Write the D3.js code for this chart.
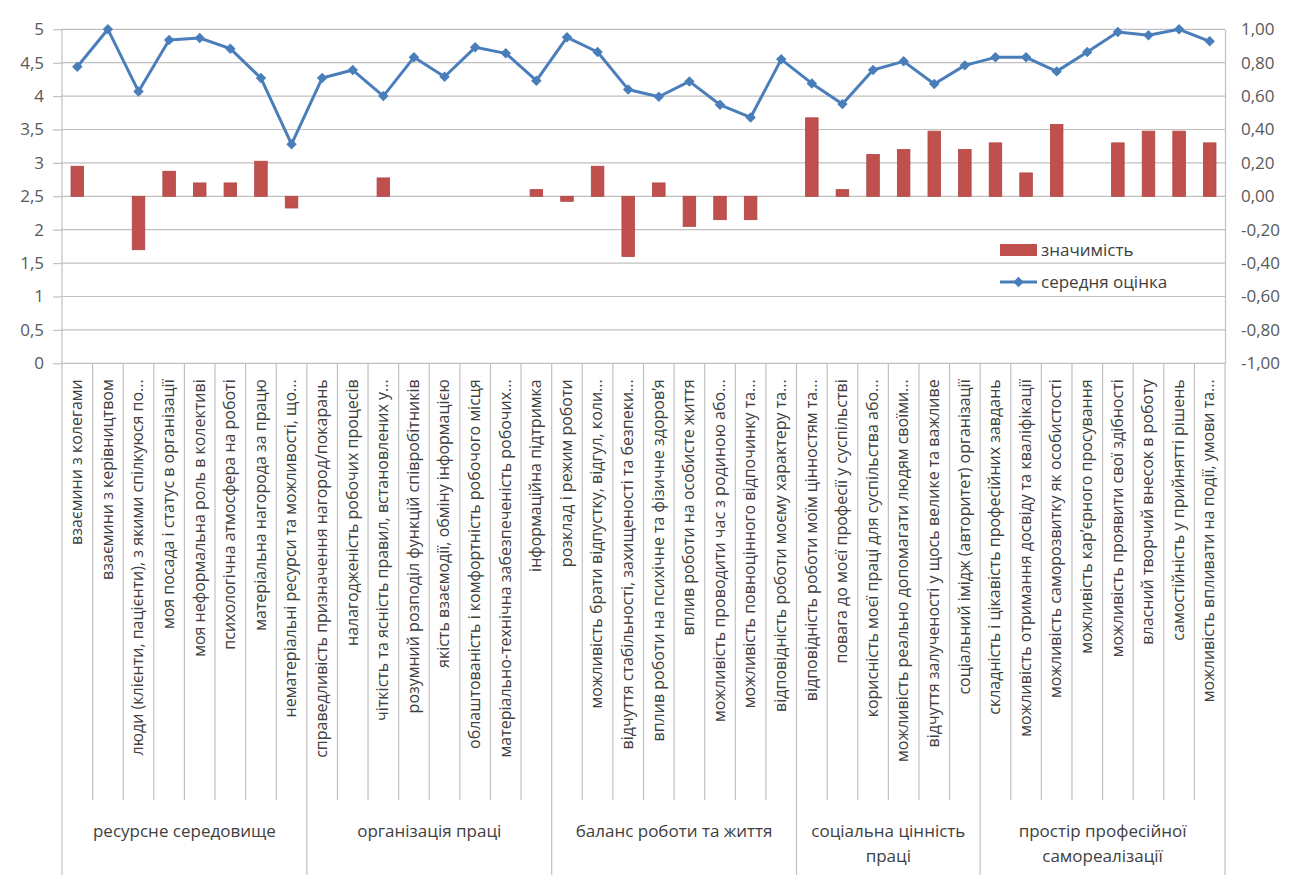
<!DOCTYPE html>
<html>
<head>
<meta charset="utf-8">
<script src="https://cdn.jsdelivr.net/npm/d3@7"></script>
<style>
  html, body { margin: 0; padding: 0; background: #fff; }
  svg { display: block; }
</style>
</head>
<body>
<svg id="chart" width="1305" height="875"></svg>
<script>
// Factors, one per column
const categories = [
  "взаємини з колегами",
  "взаємини з керівництвом",
  "люди (клієнти, пацієнти), з якими спілкуюся по...",
  "моя посада і статус в організації",
  "моя неформальна роль в колективі",
  "психологічна атмосфера на роботі",
  "матеріальна нагорода за працю",
  "нематеріальні ресурси та можливості, що...",
  "справедливість призначення нагород/покарань",
  "налагодженість робочих процесів",
  "чіткість та ясність правил, встановлених у...",
  "розумний розподіл функцій співробітників",
  "якість взаємодії, обміну інформацією",
  "облаштованість і комфортність робочого місця",
  "матеріально-технічна забезпеченість  робочих...",
  "інформаційна підтримка",
  "розклад  і режим роботи",
  "можливість брати відпустку, відгул, коли...",
  "відчуття стабільності, захищеності та безпеки...",
  "вплив роботи на психічне та фізичне здоров’я",
  "вплив роботи на особисте життя",
  "можливість проводити час з родиною або...",
  "можливість повноцінного відпочинку та...",
  "відповідність роботи моєму характеру та...",
  "відповідність роботи моїм цінностям та...",
  "повага до моєї професії у суспільстві",
  "корисність моєї праці для суспільства або...",
  "можливість реально допомагати людям своїми...",
  "відчуття залученості у щось велике та важливе",
  "соціальний імідж (авторитет) організації",
  "складність і цікавість професійних завдань",
  "можливість отримання досвіду та кваліфікації",
  "можливість саморозвитку як особистості",
  "можливість кар’єрного просування",
  "можливість проявити свої здібності",
  "власний творчий внесок в роботу",
  "самостійність у прийнятті рішень",
  "можливість впливати на події, умови та..."
];

// Factor groups: label lines and number of factors in each
const groupLabels = [
  ["ресурсне середовище"],
  ["організація праці"],
  ["баланс роботи та життя"],
  ["соціальна цінність", "праці"],
  ["простір професійної", "самореалізації"]
];
const groupSizes = [8, 8, 8, 6, 8];

// Mean score (left axis, 0..5)
const meanScore = [
  4.44, 5.00, 4.07, 4.84, 4.87, 4.71, 4.27, 3.28,
  4.27, 4.39, 4.00, 4.58, 4.29, 4.73, 4.64, 4.23,
  4.88, 4.66, 4.10, 3.99, 4.22, 3.87, 3.68, 4.55,
  4.19, 3.88, 4.39, 4.52, 4.18, 4.46,
  4.58, 4.58, 4.37, 4.66, 4.96, 4.91, 5.00, 4.82
];

// Significance (right axis, -1..1)
const significance = [
  0.18, 0.00, -0.32, 0.15, 0.08, 0.08, 0.21, -0.07,
  0.00, 0.00, 0.11, 0.00, 0.00, 0.00, 0.00, 0.04,
  -0.03, 0.18, -0.36, 0.08, -0.18, -0.14, -0.14, 0.00,
  0.47, 0.04, 0.25, 0.28, 0.39, 0.28,
  0.32, 0.14, 0.43, 0.00, 0.32, 0.39, 0.39, 0.32
];

const leftTicks = [0, 0.5, 1, 1.5, 2, 2.5, 3, 3.5, 4, 4.5, 5];
const rightTicks = [-1, -0.8, -0.6, -0.4, -0.2, 0, 0.2, 0.4, 0.6, 0.8, 1];

const seriesNames = ["значимість", "середня оцінка"];

// ---- layout ----
const plot = { left: 62, right: 1225, top: 29.3, bottom: 363.3 };
const catLineBottom = 800;
const groupLineBottom = 875;
const barColor = "#c0504d";
const lineColor = "#4a7ebb";
const gridColor = "#c0c0c0";
const textColor = "#404040";
const font = "'Open Sans', 'DejaVu Sans', sans-serif";
const catFontSize = 16;

const svg = d3.select("#chart");

const x = d3.scaleBand()
  .domain(d3.range(categories.length))
  .range([plot.left, plot.right])
  .padding(0);
const step = x.bandwidth();
const barWidth = step * 0.41;
const cx = i => x(i) + step / 2;

const yLeft = d3.scaleLinear().domain([0, 5]).range([plot.bottom, plot.top]);
const yRight = d3.scaleLinear().domain([-1, 1]).range([plot.bottom, plot.top]);

const commaNum = s => s.replace(".", ",").replace("−", "-");

// gridlines
svg.append("g")
  .selectAll("line")
  .data(leftTicks)
  .join("line")
  .attr("x1", plot.left).attr("x2", plot.right)
  .attr("y1", d => yLeft(d)).attr("y2", d => yLeft(d))
  .attr("stroke", gridColor).attr("stroke-width", 1.2);

// left axis
const axL = svg.append("g")
  .attr("transform", `translate(${plot.left},0)`)
  .call(d3.axisLeft(yLeft).tickValues(leftTicks).tickSize(9).tickPadding(9)
    .tickFormat(d => commaNum(String(d))));
axL.select(".domain").attr("stroke", gridColor).attr("stroke-width", 1.2)
  .attr("d", `M0,${plot.top}V${plot.bottom}`);
axL.selectAll(".tick line").attr("stroke", gridColor).attr("stroke-width", 1.2);
axL.selectAll("text").attr("fill", "#595959").style("font-family", font).style("font-size", "17px");

// right axis
const axR = svg.append("g")
  .attr("transform", `translate(${plot.right},0)`)
  .call(d3.axisRight(yRight).tickValues(rightTicks).tickSize(0).tickPadding(16)
    .tickFormat(d => commaNum(d3.format(".2f")(d))));
axR.select(".domain").attr("stroke", gridColor).attr("stroke-width", 1.2);
axR.selectAll("text").attr("fill", "#595959").style("font-family", font).style("font-size", "17px");

// category separators below the axis
const groupBounds = d3.cumsum([0, ...groupSizes]);
const boundaries = d3.range(categories.length + 1);
svg.append("g")
  .selectAll("line")
  .data(boundaries)
  .join("line")
  .attr("x1", i => plot.left + i * step).attr("x2", i => plot.left + i * step)
  .attr("y1", plot.bottom)
  .attr("y2", i => groupBounds.includes(i) ? groupLineBottom : catLineBottom)
  .attr("stroke", gridColor).attr("stroke-width", 1.2);

// category labels, rotated
svg.append("g")
  .selectAll("text")
  .data(categories)
  .join("text")
  .attr("transform", (d, i) => `translate(${cx(i) + catFontSize * 0.3},${plot.bottom + 16}) rotate(-90)`)
  .attr("text-anchor", "end")
  .attr("fill", textColor)
  .style("font-family", font)
  .style("font-size", catFontSize + "px")
  .text(d => d);

// group labels
const groupG = svg.append("g");
groupLabels.forEach((lines, g) => {
  const mid = plot.left + (groupBounds[g] + groupBounds[g + 1]) / 2 * step;
  lines.forEach((t, k) => {
    groupG.append("text")
      .attr("x", mid)
      .attr("y", 837 + k * 25)
      .attr("text-anchor", "middle")
      .attr("fill", textColor)
      .style("font-family", font)
      .style("font-size", "17px")
      .text(t);
  });
});

// significance bars
svg.append("g")
  .selectAll("rect")
  .data(significance.map((v, i) => ({ v, i })).filter(d => d.v !== 0))
  .join("rect")
  .attr("x", d => cx(d.i) - barWidth / 2)
  .attr("width", barWidth)
  .attr("y", d => yRight(Math.max(0, d.v)))
  .attr("height", d => Math.abs(yRight(d.v) - yRight(0)))
  .attr("fill", barColor)
  .attr("stroke", "#b04542").attr("stroke-width", 0.8);

// mean score line
svg.append("path")
  .datum(meanScore)
  .attr("fill", "none")
  .attr("stroke", lineColor)
  .attr("stroke-width", 3)
  .attr("stroke-linejoin", "round")
  .attr("d", d3.line().x((d, i) => cx(i)).y(d => yLeft(d)));

const diamond = d3.symbol().type(d3.symbolDiamond2).size(70);
svg.append("g")
  .selectAll("path")
  .data(meanScore)
  .join("path")
  .attr("transform", (d, i) => `translate(${cx(i)},${yLeft(d)})`)
  .attr("d", diamond)
  .attr("fill", lineColor);

// legend
const lg = svg.append("g").style("font-family", font).style("font-size", "17px");
lg.append("rect").attr("x", 1000).attr("y", 244).attr("width", 37).attr("height", 12).attr("fill", barColor);
lg.append("text").attr("x", 1041).attr("y", 256).attr("fill", textColor).text(seriesNames[0]);
lg.append("line").attr("x1", 1000).attr("x2", 1037).attr("y1", 282).attr("y2", 282)
  .attr("stroke", lineColor).attr("stroke-width", 3);
lg.append("path").attr("transform", "translate(1018.5,282)").attr("d", diamond).attr("fill", lineColor);
lg.append("text").attr("x", 1041).attr("y", 288).attr("fill", textColor).text(seriesNames[1]);
</script>
</body>
</html>
